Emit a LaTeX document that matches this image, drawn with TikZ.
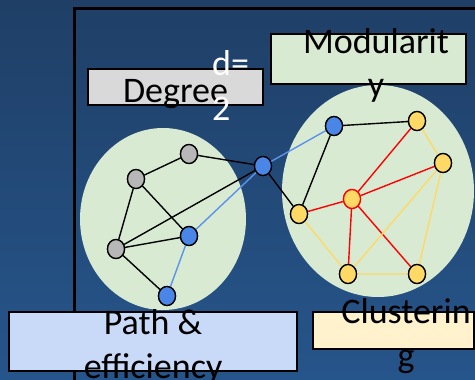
\documentclass[tikz,border=0pt]{standalone}
\usepackage{fontspec}
\setmainfont{Carlito}
\usetikzlibrary{shapes.geometric}
\definecolor{bgtop}{HTML}{1F3F66}
\definecolor{bgbot}{HTML}{26558B}
\definecolor{lgreen}{HTML}{D9EAD3}
\definecolor{lgray}{HTML}{D9D9D9}
\definecolor{lblue}{HTML}{C9DAF8}
\definecolor{lyellow}{HTML}{FFF2CC}
\definecolor{nblue}{HTML}{4A86E8}
\definecolor{eblue}{HTML}{5B93EA}
\definecolor{ngray}{HTML}{B7B7B7}
\definecolor{nyellow}{HTML}{FFD966}
\definecolor{nred}{HTML}{FF0000}
\tikzset{
  vtx/.style={ellipse, draw=black, line width=1.3pt, minimum width=17pt, minimum height=19pt, inner sep=0pt},
  gv/.style={vtx, fill=ngray},
  bv/.style={vtx, fill=nblue},
  yv/.style={vtx, fill=nyellow},
  rv/.style={vtx, fill=nyellow, draw=nred},
  labelbox/.style={draw=black, line width=1.3pt},
  lbl/.style={font=\fontsize{36}{44}\selectfont, inner sep=0pt, anchor=base},
  ke/.style={draw=black, line width=1.4pt},
  be/.style={draw=eblue, line width=1.4pt},
  re/.style={draw=nred, line width=1.4pt},
  ye/.style={draw=nyellow, line width=1.4pt},
}
\begin{document}
\begin{tikzpicture}[x=1pt,y=-1pt]
\useasboundingbox (0,0) rectangle (475,380);
\shade[top color=bgtop, bottom color=bgbot] (0,0) rectangle (475,380);
% frame
\draw[line width=3pt] (74.5,380) -- (74.5,8.5) -- (475,8.5);
% top boxes
\draw[labelbox, fill=lgray] (88,69) rectangle (263,105);
\draw[labelbox, fill=lgreen] (271,34) rectangle (466,84);
% group ellipses
\fill[lgreen] (163,219) ellipse [x radius=83, y radius=91];
\fill[lgreen] (378,191) ellipse [x radius=96, y radius=106];
% nodes
\node[gv] (g1) at (189,154) {};
\node[gv] (g2) at (136,179) {};
\node[gv] (g3) at (116,249) {};
\node[bv] (b1) at (189,236) {};
\node[bv] (b2) at (167,296) {};
\node[bv] (b3) at (263,166) {};
\node[bv] (b4) at (334,126) {};
\node[yv] (yt) at (417,121) {};
\node[yv] (yr) at (443,163) {};
\node[rv] (rc) at (352,199) {};
\node[yv] (yl) at (299,214) {};
\node[yv] (ybl) at (348,274) {};
\node[yv] (ybr) at (417,274) {};
% edges
\begin{scope}[on background layer/.style={}]
\end{scope}
\path[ke] (g1) -- (g2) (g1) -- (b3) (g2) -- (g3) (g2) -- (b1) (g3) -- (b3)
  (g3) -- (b1) (g3) -- (b2) (b3) -- (yl) (b4) -- (yt) (b4) -- (yl);
\path[be] (b1) -- (b2) (b1) -- (b3) (b3) -- (b4);
\path[re] (rc) -- (yt) (rc) -- (yr) (rc) -- (yl) (rc) -- (ybl) (rc) -- (ybr);
\path[ye] (yt) -- (yr) (yr) -- (ybl) (yr) -- (ybr) (yl) -- (ybl) (ybl) -- (ybr);
% redraw nodes on top of edges
\node[gv] at (g1) {};
\node[gv] at (g2) {};
\node[gv] at (g3) {};
\node[bv] at (b1) {};
\node[bv] at (b2) {};
\node[bv] at (b3) {};
\node[bv] at (b4) {};
\node[yv] at (yt) {};
\node[yv] at (yr) {};
\node[rv] at (rc) {};
\node[yv] at (yl) {};
\node[yv] at (ybl) {};
\node[yv] at (ybr) {};
% bottom boxes
\draw[labelbox, fill=lblue] (9,312) rectangle (297,371);
\draw[labelbox, fill=lyellow] (313,312) rectangle (474,349);
% labels
\node[lbl] (tdeg) at (175.5,102) {Degree};
\node[lbl, anchor=base west, text=white] (td1) at (212,75) {d=};
\node[lbl, anchor=base west, text=white] (td2) at (212,120) {2};
\node[lbl] (tmod1) at (376,53) {Modularit};
\node[lbl] (tmod2) at (376,96) {y};
\node[lbl] (tpath1) at (153,334) {Path \&};
\node[lbl] (tpath2) at (153,378) {efficiency};
\node[lbl] (tclu1) at (406,323) {Clusterin};
\node[lbl] (tclu2) at (406,367) {g};
\end{tikzpicture}
\end{document}
